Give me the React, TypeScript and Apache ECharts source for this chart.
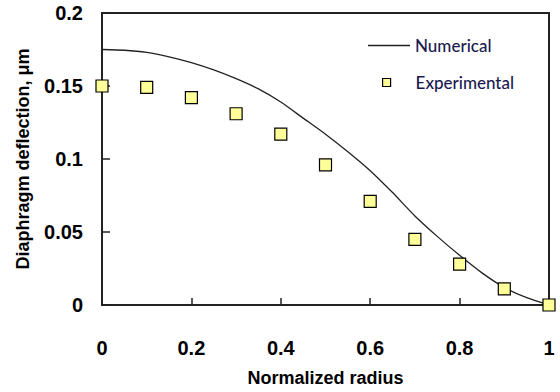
import React, { useEffect, useRef } from "react";
import * as echarts from "echarts";

const numericalX = [0, 0.05, 0.1, 0.15, 0.2, 0.25, 0.3, 0.35, 0.4, 0.45, 0.5, 0.55, 0.6, 0.65, 0.7, 0.75, 0.8, 0.85, 0.9, 0.95, 1];
const numericalY = [0.175, 0.1745, 0.173, 0.17, 0.166, 0.161, 0.155, 0.148, 0.139, 0.128, 0.117, 0.105, 0.092, 0.077, 0.061, 0.047, 0.034, 0.022, 0.012, 0.005, 0];
const experimentalX = [0, 0.1, 0.2, 0.3, 0.4, 0.5, 0.6, 0.7, 0.8, 0.9, 1];
const experimentalY = [0.15, 0.149, 0.142, 0.131, 0.117, 0.096, 0.071, 0.045, 0.028, 0.011, 0];

const xTitle = "Normalized radius";
const yTitle = "Diaphragm deflection, μm";

export default function App() {
  const ref = useRef<HTMLDivElement>(null);
  useEffect(() => {
    if (!ref.current) return;
    const chart = echarts.init(ref.current, null, { renderer: "svg" });
    const bold = { fontFamily: "Liberation Sans, Arial, sans-serif", fontWeight: "bold" as const, color: "#000" };
    const legendFont = { fontFamily: "Lato, Liberation Sans, Arial, sans-serif", fontSize: 17, fontWeight: 500, color: "#1a1a50" };
    chart.setOption({
      animation: false,
      backgroundColor: "#fff",
      grid: { left: 102, right: 11, top: 13, bottom: 87, show: true, borderColor: "#222", borderWidth: 2, backgroundColor: "transparent" },
      legend: [
        {
          data: [{ name: "Numerical", icon: "rect" }],
          left: 368, top: 37, padding: 0, itemWidth: 42, itemHeight: 1.5,
          itemStyle: { color: "#222", borderWidth: 0 },
          textStyle: legendFont,
        },
        {
          data: [{ name: "Experimental", icon: "rect" }],
          left: 382, top: 74, padding: 0, itemWidth: 8, itemHeight: 8,
          itemStyle: { color: "#ffff99", borderColor: "#000", borderWidth: 1.2 },
          textStyle: { ...legendFont, padding: [0, 0, 0, 20] },
        },
      ],
      xAxis: {
        type: "value", min: 0, max: 1, interval: 0.2,
        name: xTitle, nameLocation: "middle", nameGap: 64,
        nameTextStyle: { ...bold, fontSize: 18 },
        axisLine: { show: true, lineStyle: { color: "#222", width: 2 } },
        axisTick: { show: true, inside: true, length: 7, lineStyle: { color: "#222", width: 1.5 } },
        axisLabel: { ...bold, fontSize: 20, margin: 33 },
        splitLine: { show: false },
      },
      yAxis: {
        type: "value", min: 0, max: 0.2, interval: 0.05,
        name: yTitle, nameLocation: "middle", nameGap: 70, nameRotate: 90,
        nameTextStyle: { ...bold, fontSize: 18 },
        axisLine: { show: true, lineStyle: { color: "#222", width: 2 } },
        axisTick: { show: true, inside: true, length: 8, lineStyle: { color: "#222", width: 1.5 } },
        axisLabel: { ...bold, fontSize: 20, margin: 19 },
        splitLine: { show: false },
      },
      series: [
        {
          name: "Numerical", type: "line", showSymbol: false, symbol: "none",
          smooth: 0.2,
          data: numericalX.map((x, i) => [x, numericalY[i]]),
          lineStyle: { color: "#222", width: 1.3 },
          itemStyle: { color: "#222" },
          z: 2,
        },
        {
          name: "Experimental", type: "scatter", symbol: "rect", symbolSize: 12,
          data: experimentalX.map((x, i) => [x, experimentalY[i]]),
          itemStyle: { color: "#ffff99", borderColor: "#000", borderWidth: 1.2, opacity: 1 },
          z: 3,
        },
      ],
    });
    return () => chart.dispose();
  }, []);
  return <div ref={ref} style={{ position: "fixed", left: 0, top: 0, width: 560, height: 392 }} />;
}
